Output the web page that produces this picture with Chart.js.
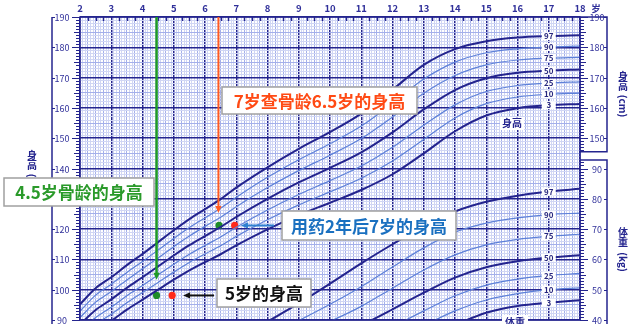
<!DOCTYPE html>
<html>
<head>
<meta charset="utf-8">
<script src="https://cdn.jsdelivr.net/npm/chart.js@4/dist/chart.umd.min.js"></script>
<style>
  html, body { margin: 0; padding: 0; background: #fff; }
  canvas { display: block; }
</style>
</head>
<body>
<canvas id="growthChart" width="640" height="324"></canvas>
<script>
// ─── 数据：男童身高百分位 (cm) ───────────────────
const heightAges = [2, 2.5, 3, 3.5, 4, 4.5, 5, 5.5, 6, 6.5, 7, 8, 9, 10, 11, 12, 13, 14, 15, 16, 17, 18];
const heightP3  = [82.1, 86.4, 89.7, 93.4, 96.7, 100.0, 103.3, 106.4, 109.1, 111.7, 114.6, 119.9, 124.6, 128.7, 132.9, 138.1, 145.0, 152.3, 157.5, 159.9, 160.9, 161.3];
const heightP10 = [84.1, 88.6, 91.9, 95.7, 99.1, 102.4, 105.8, 109.0, 111.8, 114.5, 117.6, 123.1, 128.0, 132.3, 136.8, 142.5, 149.6, 156.7, 161.4, 163.6, 164.5, 164.9];
const heightP25 = [86.2, 90.8, 94.2, 98.0, 101.4, 104.9, 108.4, 111.7, 114.6, 117.4, 120.6, 126.3, 131.4, 136.0, 140.8, 147.0, 154.3, 161.0, 165.4, 167.4, 168.2, 168.6];
const heightP50 = [88.5, 93.3, 96.8, 100.6, 104.1, 107.7, 111.3, 114.7, 117.7, 120.7, 124.0, 130.0, 135.4, 140.2, 145.3, 151.9, 159.5, 165.9, 169.8, 171.6, 172.3, 172.7];
const heightP75 = [90.8, 95.9, 99.4, 103.2, 106.9, 110.5, 114.2, 117.7, 120.9, 123.9, 127.4, 133.7, 139.3, 144.4, 149.9, 157.0, 164.8, 170.7, 174.2, 175.8, 176.4, 176.7];
const heightP90 = [92.9, 98.2, 101.8, 105.7, 109.3, 113.1, 116.9, 120.5, 123.7, 126.9, 130.5, 137.1, 142.9, 148.2, 154.0, 161.5, 169.5, 175.1, 178.2, 179.5, 180.1, 180.4];
const heightP97 = [95.2, 100.5, 104.1, 108.1, 111.8, 115.7, 119.6, 123.3, 126.6, 129.9, 133.7, 140.4, 146.5, 152.0, 158.1, 166.0, 174.2, 179.4, 182.0, 183.2, 183.7, 184.0];

// ─── 数据：男童体重百分位 (kg) ───────────────────
const weightAges = [8, 9, 10, 11, 12, 13, 14, 15, 16, 17, 18];
const weightP3  = [20.3, 22.0, 24.1, 26.8, 30.0, 34.2, 38.4, 42.4, 44.6, 45.7, 46.5];
const weightP10 = [21.9, 24.0, 26.6, 29.8, 33.6, 38.2, 43.0, 46.6, 48.7, 50.0, 50.6];
const weightP25 = [24.0, 26.7, 29.7, 33.3, 37.8, 43.0, 48.0, 51.5, 53.5, 54.7, 55.4];
const weightP50 = [27.0, 30.3, 34.0, 38.3, 43.5, 49.0, 54.0, 57.4, 59.4, 60.6, 61.4];
const weightP75 = [30.8, 34.9, 39.5, 44.5, 50.5, 56.5, 61.5, 64.8, 66.6, 67.6, 68.3];
const weightP90 = [34.8, 39.8, 45.2, 51.0, 57.5, 63.8, 69.0, 72.0, 73.7, 74.8, 75.3];
const weightP97 = [39.5, 45.5, 52.0, 58.7, 65.0, 71.0, 75.8, 79.0, 81.0, 82.4, 83.3];

const percentileNames = ['3', '10', '25', '50', '75', '90', '97'];

// ─── 孩子的测量点 ───────────────────────────────
const childAges    = [4.45, 4.95, 6.45, 6.95];
const childHeights = [98.1, 98.1, 121.2, 121.2];
const childColors  = ['#1e8c28', '#ff2a1a', '#1e8c28', '#ff2a1a'];

// ─── 刻度标签 ───────────────────────────────────
const ageTickLabels    = [2, 3, 4, 5, 6, 7, 8, 9, 10, 11, 12, 13, 14, 15, 16, 17, 18];
const heightTickLabels = [90, 100, 110, 120, 130, 140, 150, 160, 170, 180, 190];
const rightHeightTicks = [150, 160, 170, 180, 190];
const weightTickLabels = [40, 50, 60, 70, 80, 90];
const WEIGHT_OFFSET = 50;   // 体重刻度与身高刻度对齐：40kg ↔ 90cm

const NAVY = '#24248e';
const LIGHT = '#5d80d8';
const FONT = '"Noto Sans CJK SC", "Noto Sans", sans-serif';

const heightSeries = [heightP3, heightP10, heightP25, heightP50, heightP75, heightP90, heightP97];
const weightSeries = [weightP3, weightP10, weightP25, weightP50, weightP75, weightP90, weightP97];
const isMain = name => name === '3' || name === '50' || name === '97';

function curve(ages, values, name, offset) {
  return {
    label: name,
    data: ages.map((a, i) => ({ x: a, y: values[i] + offset })),
    borderColor: isMain(name) ? NAVY : LIGHT,
    borderWidth: isMain(name) ? 2 : 1.2,
    pointRadius: 0,
    cubicInterpolationMode: 'monotone',
    fill: false,
  };
}

const datasets = [
  ...heightSeries.map((s, i) => curve(heightAges, s, percentileNames[i], 0)),
  ...weightSeries.map((s, i) => curve(weightAges, s, percentileNames[i], WEIGHT_OFFSET)),
  {
    label: 'child',
    data: childAges.map((a, i) => ({ x: a, y: childHeights[i] })),
    showLine: false,
    pointRadius: 3.6,
    pointBorderWidth: 0,
    pointBackgroundColor: childColors,
  },
];

// 细网格：每月一条竖线，每厘米一条横线
const monthTicks = [];
for (let m = 24; m <= 216; m++) monthTicks.push({ value: m / 12 });
const cmTicks = [];
for (let v = 90; v <= 190; v++) cmTicks.push({ value: v });

const near = (v, step) => Math.abs(v / step - Math.round(v / step)) < 1e-6;

function arrow(ctx, x1, y1, x2, y2, color, width, head) {
  const a = Math.atan2(y2 - y1, x2 - x1);
  ctx.save();
  ctx.strokeStyle = color;
  ctx.fillStyle = color;
  ctx.lineWidth = width;
  ctx.beginPath();
  ctx.moveTo(x1, y1);
  ctx.lineTo(x2 - Math.cos(a) * head * 0.8, y2 - Math.sin(a) * head * 0.8);
  ctx.stroke();
  const hw = head * 0.45;
  ctx.beginPath();
  ctx.moveTo(x2, y2);
  ctx.lineTo(x2 - head * Math.cos(a) + hw * Math.sin(a), y2 - head * Math.sin(a) - hw * Math.cos(a));
  ctx.lineTo(x2 - head * Math.cos(a) - hw * Math.sin(a), y2 - head * Math.sin(a) + hw * Math.cos(a));
  ctx.closePath();
  ctx.fill();
  ctx.restore();
}

function box(ctx, x, y, w, h, text, color) {
  ctx.save();
  ctx.fillStyle = '#fff';
  ctx.fillRect(x, y, w, h);
  ctx.strokeStyle = '#a0a0a0';
  ctx.lineWidth = 1.5;
  ctx.strokeRect(x, y, w, h);
  ctx.fillStyle = color;
  ctx.font = 'bold 17px ' + FONT;
  ctx.textAlign = 'center';
  ctx.textBaseline = 'middle';
  ctx.fillText(text, x + w / 2, y + h / 2 + 1);
  ctx.restore();
}

function verticalTitle(ctx, x, y, chars, unit) {
  ctx.save();
  ctx.fillStyle = NAVY;
  ctx.font = 'bold 10px ' + FONT;
  ctx.textAlign = 'center';
  ctx.textBaseline = 'middle';
  chars.forEach((c, i) => ctx.fillText(c, x, y + i * 10.5));
  ctx.translate(x, y + chars.length * 10.5 + 9);
  ctx.rotate(Math.PI / 2);
  ctx.fillText(unit, 0, 0);
  ctx.restore();
}

const decor = {
  id: 'decor',
  afterDatasetsDraw(chart) {
    const { ctx, scales: { x, y }, chartArea: area } = chart;
    ctx.save();

    // 外框
    ctx.strokeStyle = NAVY;
    ctx.lineWidth = 1.5;
    ctx.strokeRect(area.left, area.top, area.right - area.left, area.bottom - area.top);

    // 顶部季度小刻度
    for (let q = 2; q < 18; q += 0.25) {
      if (near(q, 1)) continue;
      const px = Math.round(x.getPixelForValue(q)) + 0.5;
      ctx.beginPath(); ctx.moveTo(px, area.top); ctx.lineTo(px, area.top + 4); ctx.stroke();
    }

    // 年龄标签
    ctx.fillStyle = '#30309a';
    ctx.font = 'bold 9.5px ' + FONT;
    ctx.textAlign = 'center';
    ctx.textBaseline = 'middle';
    ageTickLabels.forEach(a => ctx.fillText(String(a), x.getPixelForValue(a), 8));
    ctx.fillText('岁', x.getPixelForValue(18) + 16, 8);

    // 左侧身高轴
    const lx = 52;
    ctx.lineWidth = 1.5;
    ctx.beginPath(); ctx.moveTo(lx, area.top); ctx.lineTo(lx, 324); ctx.stroke();
    ctx.lineWidth = 1;
    for (let v = 90; v <= 190; v++) {
      const py = Math.round(y.getPixelForValue(v)) + 0.5;
      const len = near(v, 10) ? 8 : near(v, 5) ? 6 : 4;
      ctx.beginPath(); ctx.moveTo(area.left - len, py); ctx.lineTo(area.left, py); ctx.stroke();
    }
    ctx.font = '9px ' + FONT;
    heightTickLabels.forEach(v => {
      const py = Math.round(y.getPixelForValue(v)) + 0.5;
      ctx.beginPath(); ctx.moveTo(lx, py); ctx.lineTo(lx + 3, py); ctx.stroke();
      ctx.fillText(String(v), 62, py);
    });

    // 右侧身高 / 体重轴
    const rx = 607;
    const hTop = area.top, hBot = y.getPixelForValue(145.5);
    const wTop = y.getPixelForValue(142.8), wBot = 324;
    ctx.lineWidth = 1.5;
    ctx.beginPath();
    ctx.moveTo(area.right, hTop); ctx.lineTo(rx, hTop); ctx.lineTo(rx, hBot); ctx.lineTo(area.right, hBot);
    ctx.moveTo(area.right, wTop); ctx.lineTo(rx, wTop); ctx.lineTo(rx, wBot);
    ctx.stroke();
    ctx.lineWidth = 1;
    for (let v = 146; v <= 190; v++) {
      const py = Math.round(y.getPixelForValue(v)) + 0.5;
      const len = near(v, 10) ? 8 : near(v, 5) ? 6 : 4;
      ctx.beginPath(); ctx.moveTo(area.right, py); ctx.lineTo(area.right + len, py); ctx.stroke();
    }
    for (let w = 40; w <= 92; w++) {
      const py = Math.round(y.getPixelForValue(w + WEIGHT_OFFSET)) + 0.5;
      const len = near(w, 10) ? 8 : near(w, 5) ? 6 : 4;
      ctx.beginPath(); ctx.moveTo(area.right, py); ctx.lineTo(area.right + len, py); ctx.stroke();
    }
    const rightLabel = (txt, py) => {
      ctx.beginPath(); ctx.moveTo(rx - 3, py); ctx.lineTo(rx, py); ctx.stroke();
      ctx.fillText(txt, 597, py);
    };
    rightHeightTicks.forEach(v => rightLabel(String(v), Math.round(y.getPixelForValue(v)) + 0.5));
    weightTickLabels.forEach(w => rightLabel(String(w), Math.round(y.getPixelForValue(w + WEIGHT_OFFSET)) + 0.5));

    verticalTitle(ctx, 32, 155, ['身', '高'], '(cm)');
    verticalTitle(ctx, 623, 76, ['身', '高'], '(cm)');
    verticalTitle(ctx, 623, 232, ['体', '重'], '(kg)');

    // 17 岁处的百分位标签
    ctx.font = 'bold 8px ' + FONT;
    const at17 = (ages, vals) => vals[ages.indexOf(17)];
    const px17 = x.getPixelForValue(17);
    const tag = (txt, py) => {
      ctx.fillStyle = '#fff';
      ctx.fillRect(px17 - 7, py - 4, 14, 8);
      ctx.fillStyle = '#26267e';
      ctx.fillText(txt, px17, py);
    };
    heightSeries.forEach((s, i) => tag(percentileNames[i], y.getPixelForValue(at17(heightAges, s))));
    weightSeries.forEach((s, i) => tag(percentileNames[i], y.getPixelForValue(at17(weightAges, s) + WEIGHT_OFFSET)));

    // 曲线组名称
    ctx.font = 'bold 10px ' + FONT;
    ctx.fillStyle = '#fff';
    ctx.fillRect(500, 117, 24, 13);
    ctx.fillRect(502, 315, 26, 9);
    ctx.fillStyle = NAVY;
    ctx.fillText('身高', 512, 123.5);
    ctx.fillText('体重', 515, 322);

    // 箭头
    const gx = x.getPixelForValue(childAges[0]);
    arrow(ctx, gx, area.top, gx, y.getPixelForValue(103.3), '#1f9a25', 2.5, 7);
    const ox = x.getPixelForValue(6.43);
    arrow(ctx, ox, area.top, ox, y.getPixelForValue(125.3), '#ff5a22', 2, 7);
    const by = y.getPixelForValue(childHeights[2]);
    arrow(ctx, 274, by, x.getPixelForValue(7.15), by, '#2f80d0', 2, 7);
    const ky = y.getPixelForValue(childHeights[0]);
    arrow(ctx, 214, ky, x.getPixelForValue(5.3), ky, '#111', 2, 7);

    // 说明文字框
    box(ctx, 222, 87, 195, 27, '7岁查骨龄6.5岁的身高', '#ff4a14');
    box(ctx, 4, 178, 150, 28, '4.5岁骨龄的身高', '#2a9a2a');
    box(ctx, 282, 211, 174, 29, '用药2年后7岁的身高', '#1a70c0');
    box(ctx, 217, 279, 94, 28, '5岁的身高', '#111');

    ctx.restore();
  },
};

new Chart(document.getElementById('growthChart'), {
  type: 'line',
  data: { datasets },
  options: {
    responsive: false,
    animation: false,
    devicePixelRatio: 1,
    layout: { padding: { left: 80, right: 60, top: 17, bottom: 2 } },
    plugins: { legend: { display: false }, tooltip: { enabled: false } },
    scales: {
      x: {
        type: 'linear', min: 2, max: 18,
        afterBuildTicks: s => { s.ticks = monthTicks.slice(); },
        ticks: { display: false },
        border: { display: false },
        grid: {
          drawTicks: false,
          color: c => near(c.tick.value, 1) ? NAVY : near(c.tick.value, 0.25) ? '#a4b0ea' : '#d0d6f4',
          lineWidth: c => near(c.tick.value, 1) ? 1.5 : 1,
        },
      },
      y: {
        type: 'linear', min: 90, max: 190,
        afterBuildTicks: s => { s.ticks = cmTicks.slice(); },
        ticks: { display: false },
        border: { display: false },
        grid: {
          drawTicks: false,
          color: c => near(c.tick.value, 10) ? NAVY : near(c.tick.value, 5) ? '#a4b0ea' : '#d0d6f4',
          lineWidth: c => near(c.tick.value, 10) ? 1.5 : 1,
        },
      },
    },
  },
  plugins: [decor],
});
</script>
</body>
</html>
